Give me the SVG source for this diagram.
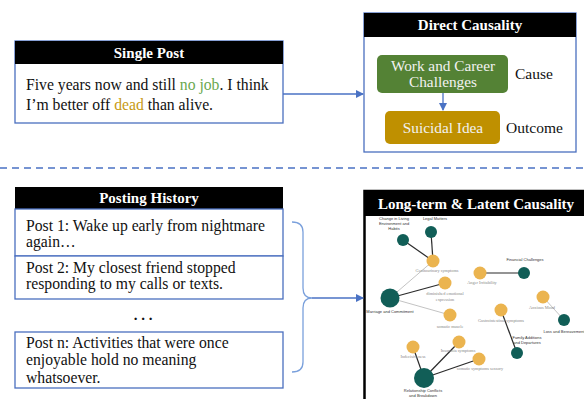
<svg xmlns="http://www.w3.org/2000/svg" width="584" height="399" viewBox="0 0 584 399">
<defs>
<style>
.hdr{fill:#000}
.box{fill:#fff;stroke:#4a6fbf;stroke-width:1.3}
.ttl{font-family:"Liberation Serif",serif;font-weight:bold;font-size:15px;fill:#fff;text-anchor:middle}
.txt{font-family:"Liberation Serif",serif;font-size:15.7px;fill:#111}
.wt{font-family:"Liberation Serif",serif;font-size:15.3px;fill:#f2f2f2;text-anchor:middle}
.bl{font-family:"Liberation Serif",serif;font-size:15.5px;fill:#111}
.arr{stroke:#4a72c4;stroke-width:1.3;fill:none}
.teal{fill:#115e57}
.org{fill:#ebb44f}
.dk{stroke:#2b2b2b;stroke-width:1.2}
.lt{stroke:#9a9a9a;stroke-width:0.6}
.tl{font-family:"Liberation Sans",sans-serif;font-size:4px;fill:#333;text-anchor:middle}
.ol{font-family:"Liberation Serif",serif;font-size:4.3px;fill:#888;text-anchor:middle}
</style>
<marker id="ah" markerWidth="8" markerHeight="8" refX="7" refY="4" orient="auto" markerUnits="userSpaceOnUse">
<path d="M0,0 L8,4 L0,8 z" fill="#4a72c4"/>
</marker>
</defs>
<rect width="584" height="399" fill="#fff"/>

<g id="single-post">
<rect class="box" x="15" y="41" width="268" height="82"/>
<rect class="hdr" x="15" y="41" width="268" height="23"/>
<text class="ttl" x="149" y="58">Single Post</text>
<text class="txt" x="26" y="90">Five years now and still <tspan fill="#6aa84f">no job</tspan>. I think</text>
<text class="txt" x="26" y="110">I’m better off <tspan fill="#c79a14">dead</tspan> than alive.</text>
</g>

<g id="direct-causality">
<rect class="box" x="364" y="13" width="212" height="139"/>
<rect class="hdr" x="364" y="13" width="212" height="24"/>
<text class="ttl" x="470" y="30">Direct Causality</text>
</g>

<g id="cause-node">
<rect x="377" y="55" width="131" height="38" rx="5" fill="#548235"/>
<text class="wt" x="443" y="71">Work and Career</text>
<text class="wt" x="443" y="87">Challenges</text>
<text class="bl" x="515" y="79">Cause</text>
</g>

<g id="outcome-node">
<rect x="385" y="111" width="115" height="33" rx="5" fill="#bf9000"/>
<text class="wt" x="443" y="133">Suicidal Idea</text>
<text class="bl" x="506" y="133">Outcome</text>
</g>

<g id="posting-history">
<rect class="hdr" x="15" y="187" width="268" height="22"/>
<text class="ttl" x="149" y="203">Posting History</text>
</g>
<g id="post-1">
<rect class="box" x="15" y="209" width="268" height="47"/>
<text class="txt" x="26" y="231">Post 1: Wake up early from nightmare</text>
<text class="txt" x="26" y="247">again…</text>
</g>
<g id="post-2">
<rect class="box" x="15" y="256" width="268" height="43"/>
<text class="txt" x="26" y="273">Post 2: My closest friend stopped</text>
<text class="txt" x="26" y="289">responding to my calls or texts.</text>
</g>
<g id="ellipsis">
<text x="143" y="320" font-family="Liberation Serif,serif" font-weight="bold" font-size="15" text-anchor="middle" fill="#111">. . .</text>
</g>
<g id="post-n">
<rect class="box" x="15" y="332" width="268" height="56"/>
<text class="txt" x="26" y="348">Post n: Activities that were once</text>
<text class="txt" x="26" y="365">enjoyable hold no meaning</text>
<text class="txt" x="26" y="383">whatsoever.</text>
</g>

<g id="long-term-panel">
<rect x="364.5" y="191" width="240" height="220" fill="#fff" stroke="#000" stroke-width="2.5"/>
<rect class="hdr" x="364" y="191" width="230" height="25"/>
<text class="ttl" x="476" y="209">Long-term &amp; Latent Causality</text>
</g>

<g id="connectors">
<line x1="0" y1="168" x2="584" y2="168" stroke="#4a72c4" stroke-width="1.3" stroke-dasharray="7,5"/>
<line class="arr" x1="283" y1="94" x2="363" y2="94" marker-end="url(#ah)"/>
<line class="arr" x1="443" y1="93" x2="443" y2="110" marker-end="url(#ah)"/>
<path d="M292,222 Q303,222 303,232 L303,288 Q303,298 312,298 Q303,298 303,308 L303,362 Q303,372 292,372" fill="none" stroke="#7aa0dc" stroke-width="1.3"/>
<line class="arr" x1="312" y1="298" x2="363" y2="298" marker-end="url(#ah)"/>
<g id="graph-edges">
<line class="dk" x1="403" y1="240" x2="433" y2="261"/>
<line class="dk" x1="431" y1="232" x2="433" y2="261" stroke-width="0.9"/>
<line class="lt" x1="433" y1="261" x2="390" y2="298"/>
<line class="dk" x1="390" y1="298" x2="445" y2="283"/>
<line class="lt" x1="390" y1="298" x2="450" y2="315"/>
<line class="dk" x1="480" y1="273" x2="524" y2="273"/>
<line class="lt" x1="543" y1="297" x2="564" y2="320"/>
<line class="dk" x1="501" y1="310" x2="517" y2="353"/>
<line class="dk" x1="424" y1="378" x2="413" y2="347"/>
<line class="dk" x1="424" y1="378" x2="459" y2="342"/>
<line class="dk" x1="424" y1="378" x2="479" y2="359"/>
</g>
</g>

<g id="g-change"><circle class="teal" cx="403" cy="240" r="6"/><text class="tl" x="394" y="220">Change in Living</text><text class="tl" x="394" y="225">Environment and</text><text class="tl" x="394" y="230">Habits</text></g>
<g id="g-legal"><circle class="teal" cx="431" cy="232" r="6"/><text class="tl" x="435" y="220">Legal Matters</text></g>
<g id="g-genito"><circle class="org" cx="433" cy="261" r="6.5"/><text class="ol" x="437" y="272">Genitourinary symptoms</text></g>
<g id="g-anger"><circle class="org" cx="480" cy="273" r="6.5"/><text class="ol" x="482" y="284">Anger Irritability</text></g>
<g id="g-financial"><circle class="teal" cx="524" cy="273" r="6"/><text class="tl" x="525" y="261">Financial Challenges</text></g>
<g id="g-marriage"><circle class="teal" cx="390" cy="298" r="9.5"/><text class="tl" x="390" y="313">Marriage and Commitment</text></g>
<g id="g-diminished"><circle class="org" cx="445" cy="283" r="6.5"/><text class="ol" x="445" y="295">diminished emotional</text><text class="ol" x="445" y="301">expression</text></g>
<g id="g-muscle"><circle class="org" cx="450" cy="315" r="6.5"/><text class="ol" x="450" y="328">somatic muscle</text></g>
<g id="g-gastro"><circle class="org" cx="501" cy="310" r="6.5"/><text class="ol" x="501" y="322">Gastrointestinal symptoms</text></g>
<g id="g-anxious"><circle class="org" cx="543" cy="297" r="6.5"/><text class="ol" x="542" y="309">Anxious Mood</text></g>
<g id="g-loss"><circle class="teal" cx="564" cy="320" r="6"/><text class="tl" x="564" y="333">Loss and Bereavement</text></g>
<g id="g-family"><circle class="teal" cx="517" cy="353" r="6"/><text class="tl" x="527" y="339">Family Additions</text><text class="tl" x="527" y="344">and Departures</text></g>
<g id="g-indecision"><circle class="org" cx="413" cy="347" r="6.5"/><text class="ol" x="413" y="358">Indecisiveness</text></g>
<g id="g-insomnia"><circle class="org" cx="459" cy="342" r="6.5"/><text class="ol" x="458" y="352">Insomnia symptoms</text></g>
<g id="g-sensory"><circle class="org" cx="479" cy="359" r="6.5"/><text class="ol" x="480" y="370">somatic symptoms sensory</text></g>
<g id="g-relationship"><circle class="teal" cx="424" cy="378" r="10"/><text class="tl" x="423" y="392">Relationship Conflicts</text><text class="tl" x="423" y="397">and Breakdown</text></g>
</svg>
